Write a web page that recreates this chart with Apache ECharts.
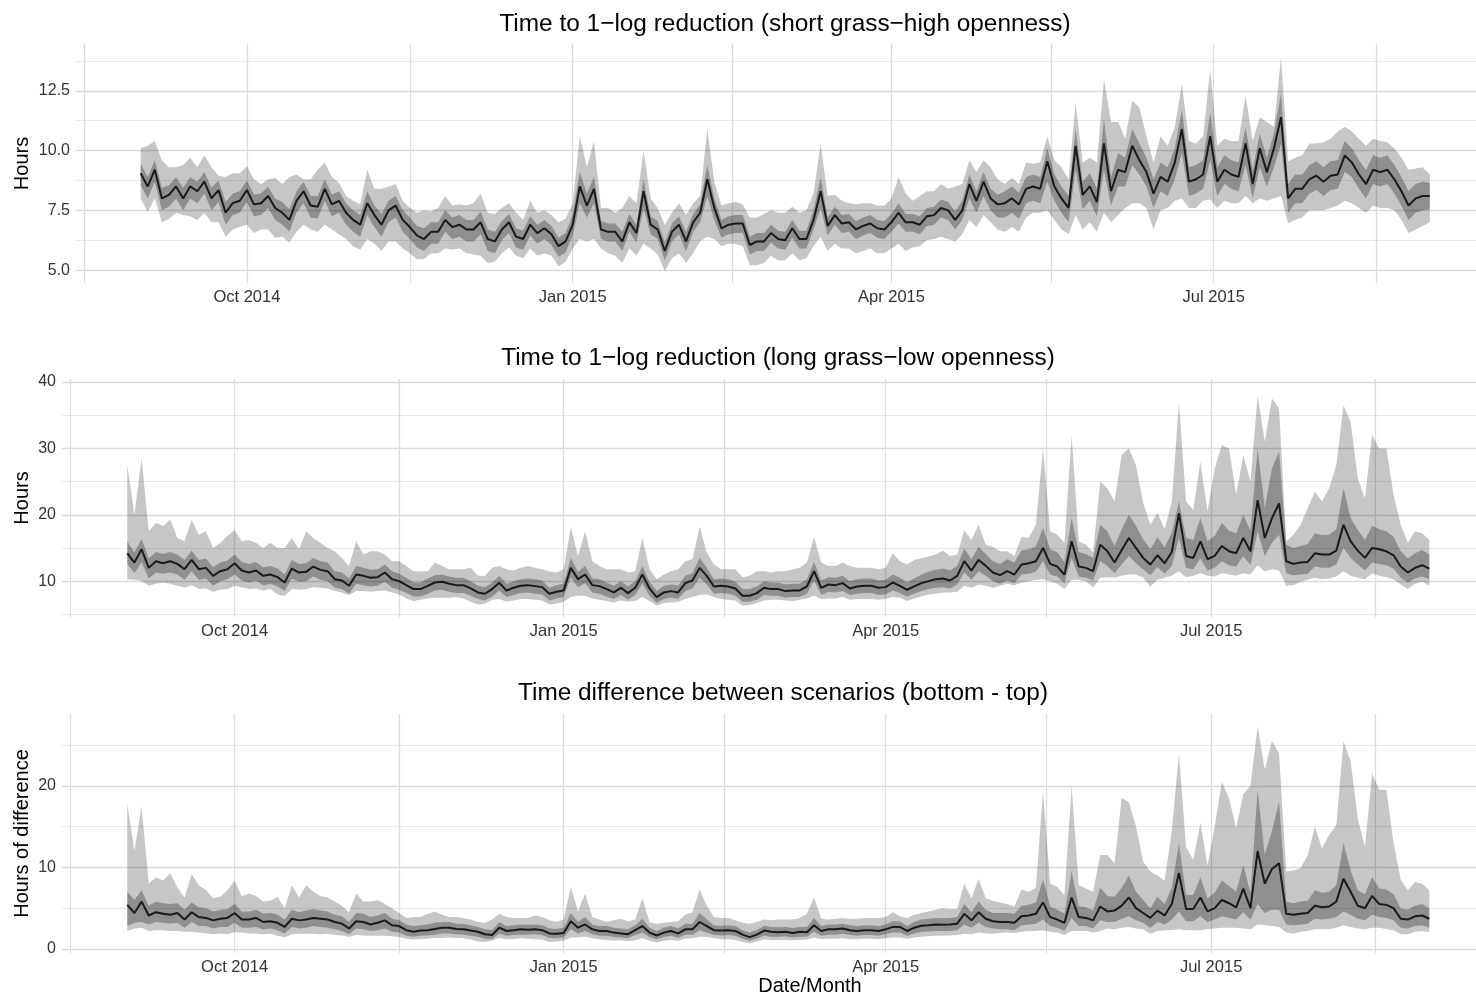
<!DOCTYPE html>
<html>
<head>
<meta charset="utf-8">
<title>Time to 1-log reduction</title>
<script src="https://cdn.jsdelivr.net/npm/echarts@6/dist/echarts.min.js"></script>
<style>
  html, body { margin: 0; padding: 0; background: #fff; }
  #chart { width: 1476px; height: 998px; }
</style>
</head>
<body>
<div id="chart"></div>
<script>
// ---- Sampling: one value every second day from 1 Sep 2014 to 31 Aug 2015 ----
const DAY = 86400000;
const firstDay = Date.UTC(2014, 8, 1);
const stepDays = 2;

// ---- Axis ticks ----
const monthTicks = [Date.UTC(2014, 9, 1), Date.UTC(2015, 0, 1), Date.UTC(2015, 3, 1), Date.UTC(2015, 6, 1)];
const monthLabels = ['Oct 2014', 'Jan 2015', 'Apr 2015', 'Jul 2015'];
const midMonthTicks = [Date.UTC(2014, 7, 16), Date.UTC(2014, 10, 16), Date.UTC(2015, 1, 15), Date.UTC(2015, 4, 16), Date.UTC(2015, 7, 16)];

// ---- Short grass / high openness (hours) ----
const shortMed = [
  9.05, 8.5, 9.2, 8.0, 8.15, 8.5, 8.0, 8.5, 8.3, 8.7,
  8.0, 8.35, 7.4, 7.8, 7.9, 8.35, 7.75, 7.8, 8.1, 7.6,
  7.4, 7.1, 7.9, 8.3, 7.7, 7.65, 8.4, 7.75, 7.9, 7.4,
  7.1, 6.9, 7.8, 7.3, 6.9, 7.5, 7.7, 7.1, 6.8, 6.45,
  6.3, 6.6, 6.6, 7.1, 6.8, 6.9, 6.7, 6.7, 7.0, 6.3,
  6.2, 6.7, 7.0, 6.4, 6.3, 6.9, 6.55, 6.75, 6.5, 6.0,
  6.2, 6.9, 8.5, 7.7, 8.4, 6.7, 6.6, 6.6, 6.2, 7.0,
  6.55, 8.3, 6.9, 6.7, 5.8, 6.6, 6.9, 6.2, 7.0, 7.4,
  8.8, 7.6, 6.75, 6.9, 6.95, 6.95, 6.05, 6.2, 6.2, 6.55,
  6.3, 6.25, 6.75, 6.3, 6.3, 7.1, 8.3, 6.85, 7.3, 6.95,
  7.0, 6.7, 6.85, 6.95, 6.75, 6.7, 7.0, 7.4, 7.0, 7.0,
  6.9, 7.25, 7.3, 7.6, 7.5, 7.1, 7.5, 8.6, 7.9, 8.7,
  8.0, 7.75, 7.8, 8.0, 7.75, 8.4, 8.5, 8.4, 9.55, 8.5,
  8.0, 7.6, 10.2, 8.15, 8.5, 7.85, 10.3, 8.3, 9.2, 9.1,
  10.2, 9.6, 9.1, 8.2, 8.9, 8.7, 9.5, 10.9, 8.7, 8.8,
  9.0, 10.6, 8.7, 9.2, 9.0, 8.9, 10.3, 8.6, 10.1, 9.1,
  10.1, 11.4, 8.0, 8.4, 8.4, 8.8, 8.95, 8.7, 8.95, 9.0,
  9.8, 9.5, 9.0, 8.6, 9.2, 9.1, 9.2, 8.8, 8.3, 7.7,
  8.0, 8.1, 8.1
];
const shortOuterHi = [
  10.1, 10.2, 10.4, 9.6, 9.3, 9.3, 9.4, 9.7, 9.3, 9.8,
  9.3, 8.95, 8.9, 9.05, 9.05, 9.35, 8.8, 8.6, 8.8, 8.85,
  8.6, 8.9, 9.0, 8.8, 8.8, 9.2, 9.5, 8.9, 8.65, 8.1,
  7.9, 7.75, 9.2, 8.4, 8.4, 8.5, 8.6, 7.9, 7.6, 7.4,
  7.5, 7.45, 7.6, 8.1, 7.7, 7.75, 7.7, 7.8, 8.2, 7.4,
  7.35, 7.6, 7.8, 7.4, 7.1, 7.9, 7.4, 7.5, 7.3, 7.0,
  7.15, 7.8, 10.6, 9.3, 10.4, 7.6, 7.6, 7.4, 7.6, 8.1,
  7.8, 10.0, 8.0, 7.6, 6.9, 7.4, 7.8, 7.3, 7.8, 8.1,
  10.9, 8.7, 7.7, 7.8, 7.85, 7.75, 7.2, 7.2, 7.35, 7.5,
  7.4, 7.4, 7.65, 7.4, 7.5, 8.2, 10.3, 8.1, 8.15, 7.9,
  7.8, 7.75, 7.8, 7.8, 7.7, 7.7, 8.0, 8.9, 8.2, 7.9,
  8.1, 8.3, 8.3, 8.6, 8.4, 8.5, 8.6, 9.6, 9.1, 9.6,
  9.3, 8.8, 8.6, 8.85, 8.6, 9.5, 9.45, 9.5, 10.6, 9.6,
  9.3, 8.8, 12.0, 9.5, 9.7, 9.5, 13.0, 11.2, 11.2, 10.5,
  12.1, 11.8, 10.6, 9.5, 10.6, 10.2, 11.0, 12.8, 10.4, 10.3,
  10.6, 13.4, 10.2, 10.5, 10.4, 10.4, 12.3, 10.4, 11.4, 11.2,
  11.0, 13.9, 9.55, 9.7, 9.8, 10.3, 10.3, 10.35, 10.5, 10.8,
  11.0, 10.8, 10.5, 10.2, 10.5, 10.4, 10.35, 10.1, 9.7, 9.2,
  9.25, 9.3, 9.0
];
const shortOuterLo = [
  8.0, 7.45, 8.0, 7.0, 7.15, 7.4, 7.3, 7.25, 7.1, 7.4,
  7.0, 7.0, 6.4, 6.7, 6.8, 6.9, 6.55, 6.7, 6.7, 6.35,
  6.4, 6.15, 6.6, 6.9, 6.7, 6.6, 6.9, 6.7, 6.5, 6.3,
  6.0, 5.85, 6.3, 6.1, 5.8, 6.2, 6.2, 5.9, 5.7, 5.45,
  5.45, 5.7, 5.7, 5.9, 5.85, 5.9, 5.7, 5.65, 5.6, 5.3,
  5.35, 5.7, 5.95, 5.6, 5.5, 5.9, 5.6, 5.7, 5.6, 5.15,
  5.35, 5.9, 6.3, 6.2, 6.3, 5.9, 5.7, 5.6, 5.3, 5.9,
  5.6, 6.1, 5.9, 5.65, 4.95, 5.5, 5.7, 5.3, 5.7, 6.2,
  6.4, 6.3, 6.0, 6.1, 6.1, 6.0, 5.2, 5.2, 5.3, 5.6,
  5.4, 5.4, 5.7, 5.4, 5.5, 6.0, 6.4, 5.8, 6.1, 5.9,
  5.9, 5.7, 5.8, 5.9, 5.7, 5.7, 5.9, 6.1, 5.8, 5.95,
  6.0, 6.25, 6.3, 6.4, 6.3, 6.2, 6.5, 7.1, 6.8, 7.3,
  7.0, 6.7, 6.6, 6.8, 6.6, 7.2, 7.4, 7.4, 7.5, 7.1,
  6.7, 6.5, 7.3, 6.7, 7.0, 6.6, 7.4, 7.0, 7.3, 7.6,
  7.8, 7.8, 7.6, 6.7, 7.5, 7.6, 7.9, 8.0, 7.6, 7.6,
  7.9, 7.95, 7.6, 7.9, 7.8, 7.8, 8.1, 7.8, 8.0, 7.9,
  8.0, 8.1, 6.95, 7.1, 7.2, 7.5, 7.5, 7.5, 7.6, 7.7,
  7.9, 7.8, 7.6, 7.4, 7.7, 7.6, 7.6, 7.5, 7.1, 6.55,
  6.7, 6.85, 7.0
];
const shortInnerHi = [
  9.45, 8.9, 9.6, 8.45, 8.55, 8.9, 8.45, 8.9, 8.7, 9.1,
  8.45, 8.75, 7.85, 8.2, 8.3, 8.75, 8.15, 8.2, 8.5, 8.0,
  7.85, 7.55, 8.3, 8.7, 8.1, 8.1, 8.8, 8.15, 8.3, 7.8,
  7.5, 7.3, 8.3, 7.7, 7.35, 7.9, 8.1, 7.5, 7.2, 6.85,
  6.75, 7.0, 7.0, 7.5, 7.2, 7.3, 7.1, 7.1, 7.45, 6.7,
  6.6, 7.05, 7.35, 6.75, 6.65, 7.25, 6.9, 7.1, 6.85, 6.35,
  6.55, 7.3, 9.1, 8.2, 8.9, 7.05, 6.95, 6.95, 6.6, 7.35,
  6.9, 8.8, 7.25, 7.05, 6.15, 6.95, 7.25, 6.6, 7.35, 7.75,
  9.4, 8.0, 7.1, 7.25, 7.3, 7.3, 6.4, 6.55, 6.55, 6.9,
  6.65, 6.6, 7.1, 6.65, 6.65, 7.5, 8.9, 7.2, 7.65, 7.3,
  7.35, 7.05, 7.2, 7.3, 7.1, 7.05, 7.35, 7.8, 7.35, 7.35,
  7.25, 7.6, 7.65, 7.95, 7.85, 7.45, 7.9, 9.0, 8.3, 9.1,
  8.4, 8.15, 8.3, 8.5, 8.25, 8.9, 9.0, 8.9, 10.1, 9.0,
  8.5, 8.1, 10.9, 8.7, 9.05, 8.4, 11.3, 8.9, 9.9, 9.7,
  10.9, 10.3, 9.7, 8.8, 9.5, 9.3, 10.1, 11.7, 9.3, 9.4,
  9.6, 11.6, 9.3, 9.8, 9.6, 9.5, 11.0, 9.2, 10.7, 9.7,
  10.7, 12.4, 8.6, 9.0, 9.0, 9.4, 9.55, 9.3, 9.55, 9.6,
  10.4, 10.1, 9.6, 9.2, 9.8, 9.7, 9.8, 9.4, 8.9, 8.3,
  8.6, 8.7, 8.65
];
const shortInnerLo = [
  8.55, 8.0, 8.7, 7.5, 7.65, 8.0, 7.5, 8.0, 7.8, 8.2,
  7.5, 7.85, 6.9, 7.3, 7.4, 7.85, 7.25, 7.3, 7.6, 7.1,
  6.9, 6.6, 7.4, 7.8, 7.2, 7.15, 7.9, 7.25, 7.4, 6.9,
  6.6, 6.4, 7.3, 6.8, 6.4, 7.0, 7.2, 6.6, 6.3, 5.95,
  5.8, 6.1, 6.1, 6.6, 6.3, 6.4, 6.2, 6.2, 6.5, 5.8,
  5.7, 6.25, 6.55, 5.95, 5.85, 6.45, 6.1, 6.3, 6.05, 5.55,
  5.75, 6.45, 7.8, 7.2, 7.8, 6.3, 6.2, 6.2, 5.8, 6.6,
  6.15, 7.6, 6.5, 6.3, 5.4, 6.2, 6.5, 5.8, 6.6, 7.0,
  8.1, 7.1, 6.35, 6.5, 6.55, 6.55, 5.65, 5.8, 5.8, 6.15,
  5.9, 5.85, 6.35, 5.9, 5.9, 6.7, 7.6, 6.45, 6.9, 6.55,
  6.6, 6.3, 6.45, 6.55, 6.35, 6.3, 6.6, 6.95, 6.6, 6.6,
  6.5, 6.85, 6.9, 7.2, 7.1, 6.7, 7.1, 8.0, 7.4, 8.1,
  7.5, 7.2, 7.2, 7.4, 7.15, 7.8, 7.9, 7.8, 8.7, 7.9,
  7.4, 7.0, 9.2, 7.55, 7.9, 7.25, 9.2, 7.7, 8.5, 8.5,
  9.4, 9.0, 8.5, 7.6, 8.3, 8.1, 8.8, 9.9, 8.1, 8.2,
  8.4, 9.6, 8.1, 8.6, 8.4, 8.3, 9.4, 8.0, 9.3, 8.5,
  9.3, 10.3, 7.4, 7.8, 7.8, 8.2, 8.35, 8.1, 8.35, 8.4,
  9.1, 8.9, 8.4, 8.0, 8.6, 8.5, 8.6, 8.2, 7.7, 7.1,
  7.4, 7.5, 7.55
];

// ---- Long grass / low openness (hours) ----
const longMed = [
  14.2, 12.8, 14.8, 12.0, 13.0, 12.7, 13.0, 12.6, 11.8, 13.2,
  11.8, 12.0, 10.8, 11.5, 11.8, 12.7, 11.6, 11.3, 11.6, 10.8,
  11.0, 10.6, 9.8, 11.9, 11.3, 11.4, 12.2, 11.7, 11.5, 10.3,
  10.1, 9.3, 11.0, 10.8, 10.5, 10.6, 11.3, 10.3, 10.0, 9.4,
  8.8, 8.8, 9.3, 9.8, 9.9, 9.6, 9.4, 9.4, 8.9, 8.3,
  8.1, 8.8, 9.75, 8.6, 9.0, 9.3, 9.4, 9.25, 9.1, 8.1,
  8.4, 8.6, 12.0, 10.3, 11.0, 9.4, 9.25, 8.8, 8.3, 9.0,
  8.2, 9.0, 11.0, 8.9, 7.6, 8.3, 8.5, 8.3, 9.7, 10.1,
  12.0, 10.8, 9.2, 9.3, 9.2, 8.9, 7.8, 7.8, 8.2, 9.0,
  8.8, 8.8, 8.5, 8.6, 8.6, 9.2, 11.5, 9.0, 9.5, 9.4,
  9.7, 8.9, 9.2, 9.3, 9.3, 9.0, 9.1, 9.8, 9.3, 8.7,
  9.2, 9.7, 10.0, 10.3, 10.4, 10.1, 10.8, 13.0, 11.6, 13.2,
  12.3, 11.3, 10.9, 11.5, 11.0, 12.5, 12.7, 13.0, 15.0, 12.6,
  12.2, 11.0, 16.0, 12.2, 12.0, 11.5, 15.5, 14.5, 12.8, 14.7,
  16.5, 15.0, 13.5, 12.5, 13.9, 12.7, 14.4, 20.2, 13.8, 13.5,
  16.0, 13.3, 13.8, 15.3, 14.5, 14.2, 16.5, 14.5, 22.2, 16.5,
  19.5, 21.7, 13.0, 12.6, 12.8, 12.9, 14.2, 14.0, 14.0, 14.6,
  18.5, 16.0, 14.6, 13.5, 15.0, 14.8, 14.5, 13.9, 12.2, 11.3,
  12.0, 12.4, 11.9
];
const longOuterHi = [
  27.5, 20.0, 28.5, 17.5, 18.8, 18.3, 19.3, 16.5, 16.0, 19.2,
  17.0, 17.5, 15.0, 15.8, 16.8, 17.7, 16.0, 16.2, 15.8, 15.0,
  15.8, 15.0, 15.0, 16.5, 14.8, 17.5, 16.5, 15.8, 15.0, 14.5,
  13.5, 12.3, 16.0, 14.0, 14.5, 14.5, 14.0, 13.0, 13.0, 12.3,
  11.5, 11.5, 11.5, 12.8, 12.3, 11.8, 11.8, 11.8, 12.0, 10.8,
  10.8, 12.0, 12.3, 11.8, 11.6, 12.0, 12.3, 12.0, 11.8, 11.5,
  11.3, 11.8, 18.2, 13.8, 17.5, 13.0, 12.3, 11.8, 11.8, 11.8,
  11.3, 11.5, 16.5, 11.8, 10.3, 11.0, 11.5, 11.8, 13.0, 13.3,
  18.2, 14.3, 12.5, 11.8, 11.8, 11.8, 10.6, 10.8, 11.5, 11.5,
  11.3, 11.5, 11.5, 11.8, 12.0, 12.8, 16.7, 12.8, 12.3, 12.3,
  12.8, 12.3, 12.0, 12.0, 12.0, 11.8, 12.0, 14.2, 13.0, 12.5,
  13.2, 13.5, 13.7, 14.0, 14.6, 13.8, 14.0, 17.7, 16.2, 18.5,
  15.5, 15.2, 14.5, 14.5, 13.8, 16.7, 16.5, 18.5, 30.0, 17.5,
  17.0, 15.8, 32.0, 16.0, 15.5, 14.3, 25.0, 24.0, 22.0, 29.0,
  30.0, 27.5, 21.8, 18.5, 20.3, 17.8, 22.0, 37.0, 22.0, 20.75,
  28.0, 20.5, 27.0, 30.5, 30.0, 23.0, 29.0, 25.0, 38.0, 31.0,
  37.5, 36.0, 16.0, 17.0, 18.5, 21.0, 23.5, 22.0, 24.0, 27.5,
  36.5, 34.0, 25.5, 22.5, 32.0, 30.0, 30.0, 23.0, 18.5, 15.8,
  17.5, 17.2, 16.2
];
const longOuterLo = [
  10.3, 10.2, 10.0, 9.3, 9.6, 9.8, 9.6, 9.3, 9.0, 9.4,
  8.8, 8.9, 8.4, 8.7, 8.8, 9.3, 9.1, 8.8, 8.9, 8.6,
  8.8, 8.0, 7.75, 8.8, 8.7, 8.8, 9.1, 9.0, 8.9, 8.5,
  8.3, 7.9, 8.5, 8.5, 8.4, 8.5, 8.6, 8.3, 8.0, 7.4,
  7.0, 7.2, 7.4, 7.5, 7.5, 7.5, 7.6, 7.4, 6.9, 6.5,
  6.6, 7.2, 7.3, 6.9, 7.1, 7.3, 7.3, 7.2, 7.1, 6.5,
  6.6, 6.9, 7.6, 7.8, 7.8, 7.4, 7.2, 7.0, 6.8, 7.1,
  6.9, 7.0, 7.6, 7.0, 6.3, 6.7, 6.8, 6.9, 7.3, 7.6,
  7.9, 8.0, 7.6, 7.3, 7.2, 7.1, 6.3, 6.4, 6.7, 7.1,
  7.2, 7.2, 7.1, 7.0, 7.2, 7.4, 7.8, 7.3, 7.4, 7.4,
  7.6, 7.2, 7.3, 7.3, 7.3, 7.2, 7.3, 7.6, 7.5, 7.0,
  7.4, 7.7, 8.0, 8.1, 8.3, 8.3, 8.4, 9.3, 9.0, 9.5,
  9.3, 9.0, 9.3, 9.6, 9.4, 9.8, 10.0, 10.2, 10.3, 10.0,
  9.6, 8.8, 10.2, 10.2, 10.0, 9.0, 10.5, 10.6, 10.5, 10.8,
  11.0, 11.0, 10.5, 9.2, 10.2, 10.5, 10.8, 11.5, 10.6, 10.8,
  11.2, 10.8, 10.7, 11.2, 11.0, 10.8, 11.2, 11.0, 12.4, 11.5,
  11.8, 11.6, 9.3, 9.4, 9.9, 10.2, 10.5, 10.3, 10.4, 10.7,
  11.5, 10.8, 10.5, 10.3, 11.2, 10.8, 10.6, 10.3, 9.5, 8.8,
  9.6, 9.9, 9.3
];
const longInnerHi = [
  16.0, 14.3, 16.4, 13.4, 14.4, 14.1, 14.4, 14.0, 13.2, 14.6,
  13.2, 13.4, 12.1, 12.8, 13.1, 14.0, 12.9, 12.6, 12.9, 12.1,
  12.3, 11.9, 11.0, 13.2, 12.6, 12.7, 13.5, 13.0, 12.8, 11.5,
  11.3, 10.4, 12.3, 12.0, 11.7, 11.8, 12.5, 11.5, 11.1, 10.5,
  9.8, 9.8, 10.4, 10.9, 11.0, 10.7, 10.5, 10.5, 10.0, 9.3,
  9.1, 9.8, 10.8, 9.6, 10.0, 10.3, 10.4, 10.3, 10.1, 9.0,
  9.4, 9.6, 13.5, 11.4, 12.3, 10.4, 10.3, 9.8, 9.3, 10.0,
  9.2, 10.0, 12.3, 9.9, 8.5, 9.3, 9.5, 9.3, 10.8, 11.2,
  13.5, 12.0, 10.3, 10.4, 10.3, 9.9, 8.8, 8.8, 9.2, 10.0,
  9.8, 9.8, 9.5, 9.6, 9.6, 10.3, 12.9, 10.1, 10.6, 10.5,
  10.8, 10.0, 10.3, 10.4, 10.4, 10.1, 10.2, 11.0, 10.5, 9.8,
  10.4, 11.0, 11.4, 11.7, 11.9, 11.6, 12.3, 14.9, 13.3, 15.2,
  14.1, 13.0, 12.6, 13.3, 12.8, 14.6, 14.8, 15.2, 18.0, 14.8,
  14.3, 12.9, 19.5, 14.4, 14.1, 13.5, 18.5, 17.5, 15.3, 17.8,
  20.0, 18.3, 16.3, 14.8, 16.6, 15.1, 17.3, 22.0, 16.5, 16.2,
  19.5, 16.0, 16.8, 18.8, 17.6, 17.2, 20.0, 17.6, 30.0, 21.0,
  27.0, 29.5, 15.5, 15.0, 15.3, 15.6, 17.2, 16.9, 17.0, 17.8,
  24.0, 19.5, 17.7, 16.2, 18.3, 17.8, 17.5, 16.7, 14.5, 13.4,
  14.2, 14.7, 14.0
];
const longInnerLo = [
  12.6, 11.2, 12.9, 10.4, 11.3, 11.1, 11.3, 11.0, 10.2, 11.5,
  10.2, 10.4, 9.3, 10.0, 10.3, 11.0, 10.1, 9.8, 10.1, 9.4,
  9.6, 9.2, 8.5, 10.4, 9.9, 10.0, 10.7, 10.2, 10.0, 9.0,
  8.8, 8.1, 9.6, 9.4, 9.2, 9.3, 9.9, 9.0, 8.7, 8.2,
  7.7, 7.7, 8.1, 8.6, 8.7, 8.4, 8.2, 8.2, 7.8, 7.3,
  7.1, 7.7, 8.6, 7.6, 7.9, 8.2, 8.3, 8.1, 8.0, 7.1,
  7.4, 7.6, 10.5, 9.1, 9.7, 8.3, 8.1, 7.7, 7.3, 7.9,
  7.2, 7.9, 9.6, 7.8, 6.7, 7.3, 7.5, 7.3, 8.5, 8.9,
  10.5, 9.5, 8.1, 8.2, 8.1, 7.8, 6.9, 6.9, 7.2, 7.9,
  7.8, 7.8, 7.5, 7.6, 7.6, 8.1, 10.1, 7.9, 8.4, 8.3,
  8.5, 7.9, 8.1, 8.2, 8.2, 7.9, 8.0, 8.6, 8.2, 7.7,
  8.1, 8.5, 8.8, 9.0, 9.1, 8.9, 9.5, 11.3, 10.2, 11.5,
  10.8, 10.0, 9.6, 10.1, 9.7, 11.0, 11.1, 11.4, 13.0, 11.0,
  10.7, 9.7, 13.5, 10.7, 10.5, 10.1, 13.0, 12.3, 11.2, 12.5,
  13.8, 12.7, 11.8, 10.9, 12.1, 11.1, 12.3, 16.5, 12.0, 11.8,
  13.4, 11.6, 12.0, 13.0, 12.4, 12.2, 13.8, 12.4, 17.5, 13.8,
  15.8, 17.0, 11.2, 10.9, 11.0, 11.1, 12.2, 12.0, 12.0, 12.5,
  15.0, 13.5, 12.5, 11.6, 12.8, 12.6, 12.4, 11.9, 10.5, 9.8,
  10.4, 10.7, 10.3
];

// ---- Difference between scenarios (hours) ----
const diffMed = [
  5.4, 4.4, 5.8, 4.1, 4.5, 4.3, 4.2, 4.4, 3.6, 4.5,
  3.9, 3.8, 3.5, 3.7, 3.8, 4.4, 3.6, 3.6, 3.8, 3.3,
  3.4, 3.2, 2.7, 3.7, 3.5, 3.6, 3.8, 3.7, 3.6, 3.3,
  3.1, 2.5, 3.4, 3.3, 3.0, 3.2, 3.5, 2.9, 2.8, 2.3,
  2.1, 2.25, 2.3, 2.45, 2.6, 2.6, 2.45, 2.4, 2.25, 2.1,
  1.8, 1.7, 2.6, 2.2, 2.3, 2.4, 2.35, 2.4, 2.3, 1.9,
  1.85, 1.95, 3.4, 2.6, 3.0, 2.4, 2.2, 2.2, 2.0, 1.9,
  1.8, 2.3, 2.8, 2.0, 1.65, 2.0, 2.2, 1.9, 2.4, 2.4,
  3.3, 2.8, 2.3, 2.25, 2.3, 2.2, 1.75, 1.45, 1.75, 2.25,
  2.1, 2.05, 2.1, 1.95, 2.1, 2.05, 2.9, 2.2, 2.4, 2.4,
  2.5, 2.3, 2.2, 2.3, 2.3, 2.2, 2.4, 2.7, 2.7, 2.2,
  2.6, 2.85, 2.9, 3.0, 2.95, 3.0, 3.1, 4.3, 3.5, 4.5,
  3.7, 3.4, 3.3, 3.3, 3.2, 4.0, 4.1, 4.3, 5.7, 3.9,
  3.6, 3.2, 6.3, 3.9, 3.8, 3.5, 5.2, 4.6, 4.7, 5.3,
  6.3, 5.0, 4.4, 3.8, 4.7, 4.1, 5.5, 9.3, 4.9, 4.9,
  6.3, 4.6, 5.0, 6.0, 5.6, 5.1, 7.4, 5.0, 12.0, 8.0,
  9.8, 10.5, 4.3, 4.2, 4.3, 4.4, 5.3, 5.1, 5.2, 5.8,
  8.6, 7.0, 5.3, 5.0, 6.5, 5.5, 5.4, 5.0, 3.7, 3.6,
  4.0, 4.1, 3.7
];
const diffOuterHi = [
  17.8, 12.0, 17.5, 8.0, 8.8, 8.4, 9.3, 7.5, 6.3, 9.2,
  7.8, 7.2, 6.2, 6.4, 7.2, 8.4, 6.5, 6.8, 6.5, 5.8,
  5.9, 6.4, 5.0, 7.8, 6.3, 7.8, 7.0, 6.5, 6.3, 5.8,
  5.3, 4.5, 6.8, 5.8, 5.8, 6.0, 5.5, 5.0, 4.4, 3.8,
  3.9, 3.9, 4.3, 4.6, 4.2, 3.9, 3.9, 3.8, 3.6, 3.3,
  3.2, 3.6, 4.3, 3.9, 3.8, 3.8, 3.8, 4.1, 3.9, 3.5,
  3.3, 3.6, 7.6, 4.6, 6.8, 3.9, 3.6, 3.3, 3.5, 3.7,
  3.4, 3.6, 6.2, 3.3, 3.1, 3.2, 3.3, 3.4, 4.2, 4.5,
  7.3, 5.3, 3.9, 3.8, 3.8, 3.5, 3.2, 3.1, 3.3, 3.6,
  3.5, 3.6, 3.6, 3.6, 3.8, 4.3, 6.3, 3.7, 3.6, 3.7,
  3.8, 3.7, 3.7, 3.8, 3.8, 3.8, 3.9, 4.5, 4.0, 3.8,
  4.2, 4.4, 4.6, 4.8, 5.0, 4.9, 4.9, 8.0, 6.2, 8.6,
  6.2, 5.9, 5.7, 5.5, 5.2, 7.3, 7.0, 7.5, 19.3, 8.0,
  7.6, 6.6, 20.0, 7.8, 7.4, 7.0, 11.5, 11.5, 10.5, 18.5,
  18.0, 15.0, 10.7, 9.5, 9.0, 8.4, 14.5, 24.0, 12.5, 10.9,
  15.5, 10.2, 15.0, 20.5, 18.5, 14.8, 19.0, 20.0, 27.3, 22.0,
  25.5, 24.0, 9.5, 9.6, 9.9, 11.5, 15.0, 12.3, 14.0, 15.2,
  25.5, 23.0, 16.0, 12.5, 21.5, 19.5, 19.5, 13.0, 8.5, 7.2,
  8.2, 8.0, 7.2
];
const diffOuterLo = [
  2.2, 2.5, 2.6, 2.2, 2.3, 2.3, 2.2, 2.2, 2.1, 2.1,
  2.0, 1.9, 1.8, 1.9, 1.8, 2.05, 2.0, 1.9, 1.85, 1.8,
  1.85, 1.6, 1.43, 1.8, 1.85, 1.85, 1.85, 1.8, 1.85, 1.7,
  1.65, 1.5, 1.7, 1.65, 1.6, 1.6, 1.6, 1.55, 1.45, 1.25,
  1.15, 1.2, 1.25, 1.35, 1.35, 1.4, 1.35, 1.3, 1.15, 0.9,
  0.85, 1.0, 1.35, 1.2, 1.2, 1.3, 1.25, 1.2, 1.15, 0.85,
  0.9, 1.0, 1.4, 1.4, 1.5, 1.3, 1.15, 1.1, 1.0, 1.05,
  0.95, 1.05, 1.3, 1.0, 0.8, 1.0, 1.1, 1.0, 1.25, 1.3,
  1.5, 1.45, 1.3, 1.2, 1.2, 1.1, 0.85, 0.7, 0.9, 1.15,
  1.1, 1.1, 1.1, 1.05, 1.1, 1.15, 1.4, 1.2, 1.25, 1.25,
  1.3, 1.2, 1.2, 1.25, 1.25, 1.2, 1.3, 1.4, 1.4, 1.25,
  1.4, 1.5, 1.55, 1.6, 1.6, 1.65, 1.7, 1.85, 1.8, 2.0,
  1.9, 1.85, 1.95, 2.0, 1.95, 2.1, 2.2, 2.2, 2.3, 2.1,
  2.0, 1.7, 2.2, 2.2, 2.2, 2.0, 2.2, 2.5, 2.4, 2.6,
  2.7, 2.5, 2.4, 1.85, 2.2, 2.3, 2.3, 2.4, 2.3, 2.3,
  2.3, 2.4, 2.5, 2.6, 2.6, 2.6, 2.5, 2.4, 3.0, 2.9,
  2.8, 2.7, 2.0, 1.85, 2.1, 2.2, 2.4, 2.4, 2.4, 2.6,
  2.9, 2.7, 2.5, 2.4, 2.6, 2.6, 2.4, 2.3, 1.8, 1.8,
  2.1, 2.2, 2.05
];
const diffInnerHi = [
  7.0, 6.0, 7.2, 5.3, 5.8, 5.6, 5.5, 5.6, 4.8, 5.7,
  5.1, 5.0, 4.6, 4.8, 4.9, 5.5, 4.6, 4.6, 4.8, 4.3,
  4.4, 4.2, 3.6, 4.8, 4.5, 4.7, 4.9, 4.7, 4.6, 4.2,
  4.0, 3.3, 4.4, 4.3, 3.9, 4.1, 4.4, 3.7, 3.5, 3.0,
  2.8, 2.9, 3.0, 3.2, 3.3, 3.3, 3.1, 3.05, 2.9, 2.7,
  2.4, 2.3, 3.3, 2.8, 2.9, 3.0, 2.95, 3.0, 2.9, 2.5,
  2.45, 2.6, 4.4, 3.3, 3.9, 3.0, 2.8, 2.8, 2.6, 2.5,
  2.4, 2.9, 3.7, 2.6, 2.2, 2.6, 2.8, 2.5, 3.1, 3.1,
  4.4, 3.6, 2.9, 2.85, 2.9, 2.8, 2.3, 2.0, 2.3, 2.85,
  2.7, 2.65, 2.7, 2.55, 2.7, 2.7, 3.8, 2.8, 3.0, 3.0,
  3.1, 2.9, 2.8, 2.9, 2.9, 2.8, 3.0, 3.4, 3.4, 2.8,
  3.3, 3.6, 3.7, 3.8, 3.75, 3.8, 3.9, 5.5, 4.5, 5.8,
  4.8, 4.4, 4.4, 4.4, 4.3, 5.3, 5.4, 5.7, 8.5, 5.2,
  4.8, 4.3, 9.5, 5.2, 5.1, 4.7, 7.5, 6.5, 6.4, 7.5,
  9.0, 7.0, 6.0, 5.0, 6.4, 5.5, 7.5, 13.0, 6.6, 6.6,
  8.8, 6.2, 6.9, 8.4, 7.7, 7.0, 10.3, 6.9, 19.5, 11.5,
  14.5, 18.0, 5.8, 5.6, 5.8, 5.9, 7.2, 6.9, 7.0, 7.8,
  13.0, 9.6, 7.2, 6.7, 8.8, 7.4, 7.3, 6.7, 5.0, 4.8,
  5.3, 5.5, 5.0
];
const diffInnerLo = [
  2.8, 3.2, 3.3, 3.0, 3.3, 3.2, 3.1, 3.2, 2.6, 3.3,
  2.8, 2.8, 2.5, 2.7, 2.7, 3.2, 2.6, 2.6, 2.7, 2.4,
  2.5, 2.3, 1.9, 2.7, 2.5, 2.6, 2.8, 2.7, 2.6, 2.4,
  2.2, 1.8, 2.5, 2.4, 2.2, 2.3, 2.5, 2.1, 2.0, 1.6,
  1.5, 1.6, 1.65, 1.75, 1.9, 1.9, 1.8, 1.75, 1.6, 1.5,
  1.25, 1.2, 1.9, 1.6, 1.7, 1.75, 1.75, 1.8, 1.7, 1.35,
  1.3, 1.4, 2.4, 1.9, 2.2, 1.8, 1.6, 1.6, 1.45, 1.4,
  1.3, 1.7, 2.0, 1.45, 1.15, 1.45, 1.6, 1.35, 1.75, 1.75,
  2.3, 2.0, 1.7, 1.65, 1.7, 1.6, 1.25, 1.0, 1.25, 1.65,
  1.5, 1.5, 1.55, 1.4, 1.5, 1.5, 2.1, 1.6, 1.75, 1.75,
  1.85, 1.7, 1.6, 1.7, 1.7, 1.6, 1.8, 2.0, 2.0, 1.6,
  1.9, 2.1, 2.15, 2.2, 2.2, 2.2, 2.3, 3.0, 2.6, 3.2,
  2.7, 2.5, 2.4, 2.4, 2.3, 2.9, 3.0, 3.1, 3.6, 2.8,
  2.6, 2.2, 3.8, 2.8, 2.8, 2.5, 3.5, 3.3, 3.3, 3.7,
  4.0, 3.5, 3.2, 2.6, 3.3, 3.0, 3.6, 4.6, 3.4, 3.4,
  4.0, 3.3, 3.6, 4.0, 3.8, 3.6, 4.5, 3.6, 5.5, 4.4,
  4.8, 4.8, 3.0, 2.9, 3.0, 3.1, 3.7, 3.6, 3.7, 3.9,
  4.6, 4.2, 3.7, 3.5, 4.2, 3.9, 3.8, 3.5, 2.6, 2.5,
  2.8, 2.9, 2.6
];

// ---- Drawing ----
const FONT = '"Liberation Sans", Arial, Helvetica, sans-serif';
const sampleDates = shortMed.map((_, i) => firstDay + i * stepDays * DAY);
const xMin = firstDay - 18.25 * DAY;
const xMax = xMin + 395.3 * DAY;
const verticalGrid = midMonthTicks.concat(monthTicks).sort((a, b) => a - b);

const OUTER_FILL = 'rgba(0,0,0,0.224)';
const INNER_FILL = 'rgba(0,0,0,0.28)';

const panels = [
  {
    title: 'Time to 1\u2212log reduction (short grass\u2212high openness)', titleX: 785, titleY: 24,
    left: 76, top: 44, height: 239, yMin: 4.46, yMax: 14.46,
    yMajor: [5, 7.5, 10, 12.5], yMinor: [6.25, 8.75, 11.25, 13.75], digits: 1,
    yName: 'Hours', nameGap: 44,
    med: shortMed, oLo: shortOuterLo, oHi: shortOuterHi, iLo: shortInnerLo, iHi: shortInnerHi
  },
  {
    title: 'Time to 1\u2212log reduction (long grass\u2212low openness)', titleX: 778, titleY: 358,
    left: 62, top: 379, height: 238, yMin: 4.6, yMax: 40.45,
    yMajor: [10, 20, 30, 40], yMinor: [5, 15, 25, 35], digits: 0,
    yName: 'Hours', nameGap: 30,
    med: longMed, oLo: longOuterLo, oHi: longOuterHi, iLo: longInnerLo, iHi: longInnerHi
  },
  {
    title: 'Time difference between scenarios (bottom - top)', titleX: 783, titleY: 693,
    left: 62, top: 714, height: 239, yMin: -0.5, yMax: 28.8,
    yMajor: [0, 10, 20], yMinor: [5, 15, 25], digits: 0,
    yName: 'Hours of difference', nameGap: 30,
    med: diffMed, oLo: diffOuterLo, oHi: diffOuterHi, iLo: diffInnerLo, iHi: diffInnerHi
  }
];

const pairs = (ys) => ys.map((y, i) => [sampleDates[i], y]);
const widths = (hi, lo) => hi.map((h, i) => +(h - lo[i]).toFixed(3));

function monthLabel(v) {
  for (let i = 0; i < monthTicks.length; i++) {
    if (Math.abs(monthTicks[i] - v) < DAY / 2) return monthLabels[i];
  }
  return '';
}

const grid = [], xAxis = [], yAxis = [], series = [], graphic = [];

panels.forEach((p, g) => {
  grid.push({ left: p.left, top: p.top, width: 1476 - p.left, height: p.height,
              containLabel: false, outerBoundsMode: 'none' });

  // date axis that carries the series (kept invisible)
  xAxis.push({ type: 'time', gridIndex: g, min: xMin, max: xMax, position: 'top', show: false });
  // numeric twin with the same range: month labels and vertical grid lines
  xAxis.push({
    type: 'value', gridIndex: g, min: xMin, max: xMax, position: 'bottom',
    axisLine: { show: false },
    axisTick: { show: false, customValues: verticalGrid },
    axisLabel: { customValues: monthTicks, formatter: monthLabel, color: '#333',
                 fontSize: 16.5, fontFamily: FONT, margin: 6 },
    splitLine: { show: true, lineStyle: { color: '#dcdcdc', width: 1.3 } }
  });

  yAxis.push({
    type: 'value', gridIndex: g, min: p.yMin, max: p.yMax, position: 'left',
    name: p.yName, nameLocation: 'middle', nameGap: p.nameGap, nameMoveOverlap: false,
    nameTextStyle: { fontSize: 20, color: '#000', fontFamily: FONT },
    axisLine: { show: false },
    axisTick: { show: false, customValues: p.yMajor },
    axisLabel: { customValues: p.yMajor, formatter: (v) => Number(v).toFixed(p.digits),
                 color: '#333', fontSize: 16, fontFamily: FONT, margin: 6 },
    splitLine: { show: true, lineStyle: { color: '#d9d9d9', width: 1.4 } }
  });
  yAxis.push({
    type: 'value', gridIndex: g, min: p.yMin, max: p.yMax, position: 'right',
    axisLine: { show: false },
    axisTick: { show: false, customValues: p.yMinor },
    axisLabel: { show: false, customValues: p.yMinor },
    splitLine: { show: true, lineStyle: { color: '#e8e8e8', width: 1.2 } }
  });

  const common = { type: 'line', xAxisIndex: 2 * g, yAxisIndex: 2 * g, symbol: 'none',
                   silent: true, animation: false };

  // outer interval
  series.push(Object.assign({}, common, { stack: 'outer' + g, data: pairs(p.oLo),
    lineStyle: { opacity: 0 } }));
  series.push(Object.assign({}, common, { stack: 'outer' + g, data: pairs(widths(p.oHi, p.oLo)),
    lineStyle: { opacity: 0 }, areaStyle: { color: OUTER_FILL, opacity: 1 } }));
  // inner interval
  series.push(Object.assign({}, common, { stack: 'inner' + g, data: pairs(p.iLo),
    lineStyle: { opacity: 0 } }));
  series.push(Object.assign({}, common, { stack: 'inner' + g, data: pairs(widths(p.iHi, p.iLo)),
    lineStyle: { opacity: 0 }, areaStyle: { color: INNER_FILL, opacity: 1 } }));
  // median
  series.push(Object.assign({}, common, { data: pairs(p.med),
    lineStyle: { color: '#1a1a1a', width: 2 } }));

  graphic.push({ type: 'text', x: p.titleX, y: p.titleY, silent: true,
    style: { text: p.title, fontSize: 24.4, fontFamily: FONT, fill: '#000',
             align: 'center', verticalAlign: 'middle' } });
});

graphic.push({ type: 'text', x: 810, y: 986, silent: true,
  style: { text: 'Date/Month', fontSize: 20, fontFamily: FONT, fill: '#000',
           align: 'center', verticalAlign: 'middle' } });

const chart = echarts.init(document.getElementById('chart'), null, { renderer: 'canvas' });
chart.setOption({
  animation: false,
  backgroundColor: '#ffffff',
  grid, xAxis, yAxis, series, graphic
});
</script>
</body>
</html>
